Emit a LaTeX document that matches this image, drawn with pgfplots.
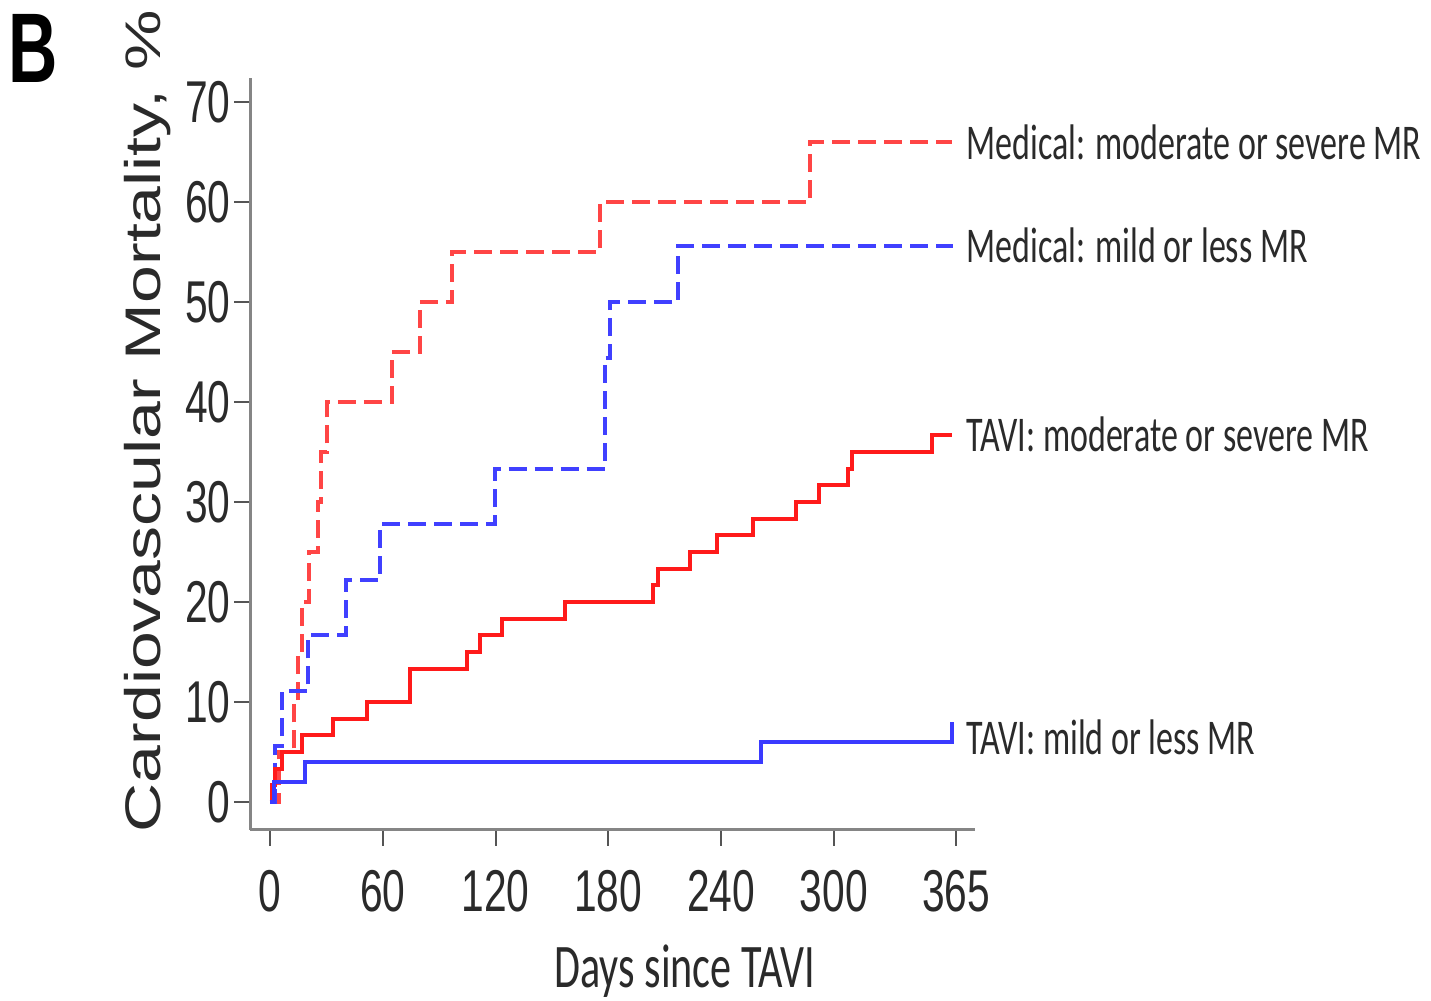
\documentclass[border=0pt]{standalone}
\usepackage{pgfplots}
\pgfplotsset{compat=1.18}
\usepackage{fontspec}
\setmainfont{Liberation Sans}
\newfontfamily\tickfont[FakeStretch=0.69]{Liberation Sans}
\newfontfamily\ylabfont[FakeStretch=1.36]{Liberation Sans}
\newfontfamily\bfont[FakeStretch=0.69]{Liberation Sans}
\newfontfamily\labfont[FakeStretch=0.68]{Carlito}
\definecolor{axgray}{HTML}{858585}
\definecolor{tickgray}{HTML}{555555}
\definecolor{txt}{HTML}{2A2A2A}
\definecolor{myred}{HTML}{FF1A1A}
\definecolor{myblue}{HTML}{3A3AFF}
\definecolor{myredd}{HTML}{FF4545}
\definecolor{mybluee}{HTML}{4040FF}

\begin{document}
\begin{tikzpicture}[x=1pt,y=1pt]
\path[use as bounding box] (0,0) rectangle (715.5,500.5);
\begin{axis}[
  at={(125pt,85.5pt)}, anchor=south west,
  scale only axis, width=362.5pt, height=376pt,
  xmin=-10.64, xmax=375.1, ymin=-2.8, ymax=72.4,
  axis x line*=bottom, axis y line*=left,
  axis line style={-, draw=axgray, line width=1.5pt},
  xtick={0,60,120,180,240,300,365},
  ytick={0,10,20,30,40,50,60,70},
  tick align=outside,
  major tick length=8pt,
  tick style={draw=tickgray, line width=1pt},
  /pgf/number format/assume math mode=true,
  ticklabel style={font=\tickfont\fontsize{29.5}{30}\selectfont, text=txt, inner sep=0pt},
  xticklabel style={yshift=-12pt},
  yticklabel style={xshift=-1.5pt},
  clip=false,
]
% Medical: moderate or severe MR
\addplot[const plot, myredd, line width=2pt, dash pattern=on 9pt off 4pt] coordinates {
(0,0) (5,5) (13,10) (15,15) (17,20) (20.5,25) (25.5,30) (27,35) (30.5,40)
(64.7,45) (79.8,50) (96.7,55) (175.6,60) (287.3,66) (363,66)};
% Medical: mild or less MR
\addplot[const plot, mybluee, line width=2pt, dash pattern=on 9pt off 4pt] coordinates {
(0,0) (2.5,5.56) (6.5,11.11) (20.4,16.67) (40.3,22.22) (58.5,27.78) (119.7,33.33)
(178.2,44.44) (181,50) (217,55.56) (363.5,55.56)};
% TAVI: moderate or severe MR
\addplot[const plot, myred, line width=2pt] coordinates {
(0,0) (1,1.67) (2.5,3.33) (6.5,5) (17,6.67) (33.5,8.33) (51.4,10) (74.5,13.33)
(104.7,15) (111.8,16.67) (123.3,18.33) (157,20) (204,21.67) (206.6,23.33)
(223.5,25) (237.7,26.67) (257,28.33) (280,30) (292,31.67) (307.7,33.33)
(309.6,35) (352,36.67) (363,36.67)};
% TAVI: mild or less MR
\addplot[const plot, myblue, line width=2pt] coordinates {
(0,0) (2,2) (18.6,4) (261,6) (363,8)};

\begin{scope}[every node/.style={anchor=base west, inner sep=0pt, text=txt, font=\labfont\fontsize{25}{25}\selectfont}]
\node at (axis cs:370.3,64.2) {Medical: moderate or severe MR};
\node at (axis cs:370.3,53.9) {Medical: mild or less MR};
\node at (axis cs:370.3,35.0) {TAVI: moderate or severe MR};
\node at (axis cs:370.3,4.7) {TAVI: mild or less MR};
\end{scope}
\end{axis}
\node[anchor=base, inner sep=0pt, text=txt, font=\labfont\fontsize{31}{31}\selectfont] at (342.5,6.5) {Days since TAVI};
\node[rotate=90, anchor=base, inner sep=0pt, text=txt, font=\ylabfont\fontsize{25}{25}\selectfont] at (80,290) {Cardiovascular Mortality, \%};
\node[anchor=base west, inner sep=0pt, font=\bfont\bfseries\fontsize{49.5}{50}\selectfont] at (4,459) {B};
\end{tikzpicture}
\end{document}
